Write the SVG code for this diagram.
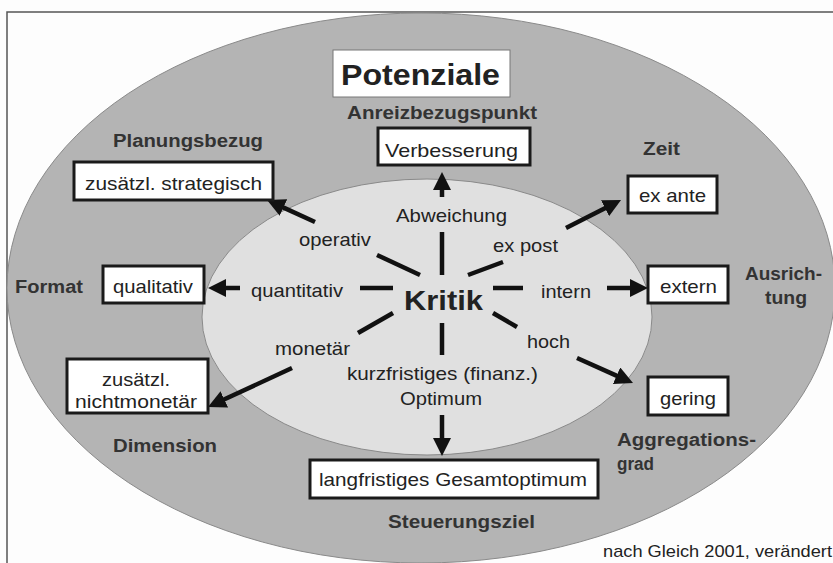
<svg xmlns="http://www.w3.org/2000/svg" width="833" height="563" viewBox="0 0 833 563">
<defs>
<style>
text{font-family:"Liberation Sans",Arial,Helvetica,sans-serif;fill:#222;}
.r{font-size:19px;}
.b{font-size:17.5px;font-weight:bold;fill:#333;}
.box{fill:#fff;stroke:#1a1a1a;stroke-width:3;}
.seg{stroke:#111;stroke-width:4.5;fill:none;}
.arr{stroke:#111;stroke-width:4.5;fill:none;marker-end:url(#ah);}
</style>
<marker id="ah" viewBox="0 0 18 18" markerWidth="18" markerHeight="18" refX="1" refY="9" orient="auto" markerUnits="userSpaceOnUse">
<path d="M0,0 L18,9 L0,18 z" fill="#111"/>
</marker>
</defs>
<rect x="0" y="0" width="833" height="563" fill="#fdfdfd"/>
<rect x="7" y="12" width="840" height="570" fill="#fdfdfd" stroke="#555" stroke-width="1.5"/>
<g id="outer">
<ellipse cx="421" cy="288" rx="414" ry="275" fill="#b4b4b4" stroke="#8a8a8a" stroke-width="1"/>
</g>
<g id="inner">
<ellipse cx="427" cy="317" rx="225" ry="138" fill="#e0e0e0" stroke="#8a8a8a" stroke-width="1"/>
</g>
<g id="connectors">
<line class="seg" x1="442" y1="232" x2="442" y2="275"/>
<line class="seg" x1="442" y1="323" x2="442" y2="355"/>
<line class="seg" x1="360" y1="288" x2="393" y2="288"/>
<line class="seg" x1="493" y1="288" x2="523" y2="288"/>
<line class="seg" x1="377" y1="255" x2="420" y2="275"/>
<line class="seg" x1="468" y1="275" x2="503" y2="262"/>
<line class="seg" x1="358" y1="333" x2="393" y2="313"/>
<line class="seg" x1="493" y1="313" x2="517" y2="327"/>
<line class="arr" x1="442" y1="197" x2="442" y2="189"/>
<line class="arr" x1="442" y1="415" x2="442" y2="439"/>
<line class="arr" x1="240" y1="288" x2="225" y2="288"/>
<line class="arr" x1="607" y1="288" x2="631" y2="288"/>
<line class="arr" x1="315" y1="222" x2="282.5" y2="207.1"/>
<line class="arr" x1="566" y1="228" x2="605.9" y2="207.7"/>
<line class="arr" x1="292" y1="368" x2="223.4" y2="399.8"/>
<line class="arr" x1="577" y1="358" x2="617.5" y2="376.1"/>
</g>
<g id="potenziale">
<rect x="333" y="50" width="177" height="47" fill="#fff" stroke="#777" stroke-width="1"/>
<text x="341" y="85" style="font-size:30px;font-weight:bold" textLength="159" lengthAdjust="spacingAndGlyphs">Potenziale</text>
</g>
<g id="kritik">
<text x="404" y="310" style="font-size:28px;font-weight:bold" textLength="79" lengthAdjust="spacingAndGlyphs">Kritik</text>
</g>
<g id="anreiz">
<text class="b" x="347" y="119" textLength="190" lengthAdjust="spacingAndGlyphs">Anreizbezugspunkt</text>
<rect class="box" x="378" y="128" width="152" height="37"/>
<text class="r" x="385" y="157" textLength="133" lengthAdjust="spacingAndGlyphs">Verbesserung</text>
<text class="r" x="396" y="222" textLength="111" lengthAdjust="spacingAndGlyphs">Abweichung</text>
</g>
<g id="planung">
<text class="b" x="113" y="147" textLength="150" lengthAdjust="spacingAndGlyphs">Planungsbezug</text>
<rect class="box" x="74" y="162" width="199" height="38"/>
<text class="r" x="85" y="190" textLength="177" lengthAdjust="spacingAndGlyphs">zusätzl. strategisch</text>
<text class="r" x="299" y="246" textLength="72" lengthAdjust="spacingAndGlyphs">operativ</text>
</g>
<g id="zeit">
<text class="b" x="643" y="155" textLength="37" lengthAdjust="spacingAndGlyphs">Zeit</text>
<rect class="box" x="628" y="176" width="89" height="37"/>
<text class="r" x="639" y="202" textLength="67" lengthAdjust="spacingAndGlyphs">ex ante</text>
<text class="r" x="493" y="252" textLength="65" lengthAdjust="spacingAndGlyphs">ex post</text>
</g>
<g id="format">
<text class="b" x="15" y="293" textLength="68" lengthAdjust="spacingAndGlyphs">Format</text>
<rect class="box" x="103" y="266" width="101" height="37"/>
<text class="r" x="113" y="293" textLength="80" lengthAdjust="spacingAndGlyphs">qualitativ</text>
<text class="r" x="251" y="297" textLength="92" lengthAdjust="spacingAndGlyphs">quantitativ</text>
</g>
<g id="ausrichtung">
<text class="b" x="745" y="280" textLength="77" lengthAdjust="spacingAndGlyphs">Ausrich-</text>
<text class="b" x="765" y="304" textLength="42" lengthAdjust="spacingAndGlyphs">tung</text>
<rect class="box" x="648" y="266" width="80" height="37"/>
<text class="r" x="660" y="293" textLength="57" lengthAdjust="spacingAndGlyphs">extern</text>
<text class="r" x="541" y="298" textLength="50" lengthAdjust="spacingAndGlyphs">intern</text>
</g>
<g id="dimension">
<rect class="box" x="67" y="359" width="141" height="54"/>
<text class="r" x="102" y="386" textLength="68" lengthAdjust="spacingAndGlyphs">zusätzl.</text>
<text class="r" x="75" y="408" textLength="122" lengthAdjust="spacingAndGlyphs">nichtmonetär</text>
<text class="b" x="113" y="452" textLength="104" lengthAdjust="spacingAndGlyphs">Dimension</text>
<text class="r" x="275" y="355" textLength="75" lengthAdjust="spacingAndGlyphs">monetär</text>
</g>
<g id="steuerung">
<text class="r" x="347" y="380" textLength="191" lengthAdjust="spacingAndGlyphs">kurzfristiges (finanz.)</text>
<text class="r" x="400" y="405" textLength="82" lengthAdjust="spacingAndGlyphs">Optimum</text>
<rect class="box" x="310" y="460" width="288" height="38"/>
<text class="r" x="319" y="486" textLength="268" lengthAdjust="spacingAndGlyphs">langfristiges Gesamtoptimum</text>
<text class="b" x="388" y="528" textLength="147" lengthAdjust="spacingAndGlyphs">Steuerungsziel</text>
</g>
<g id="aggregation">
<text class="r" x="527" y="348" textLength="43" lengthAdjust="spacingAndGlyphs">hoch</text>
<rect class="box" x="648" y="377" width="80" height="38"/>
<text class="r" x="660" y="405" textLength="56" lengthAdjust="spacingAndGlyphs">gering</text>
<text class="b" x="617" y="446" textLength="139" lengthAdjust="spacingAndGlyphs">Aggregations-</text>
<text class="b" x="617" y="470" textLength="37" lengthAdjust="spacingAndGlyphs">grad</text>
</g>
<g id="source">
<text x="603" y="557" style="font-size:17px" textLength="229" lengthAdjust="spacingAndGlyphs">nach Gleich 2001, verändert</text>
</g>
</svg>
